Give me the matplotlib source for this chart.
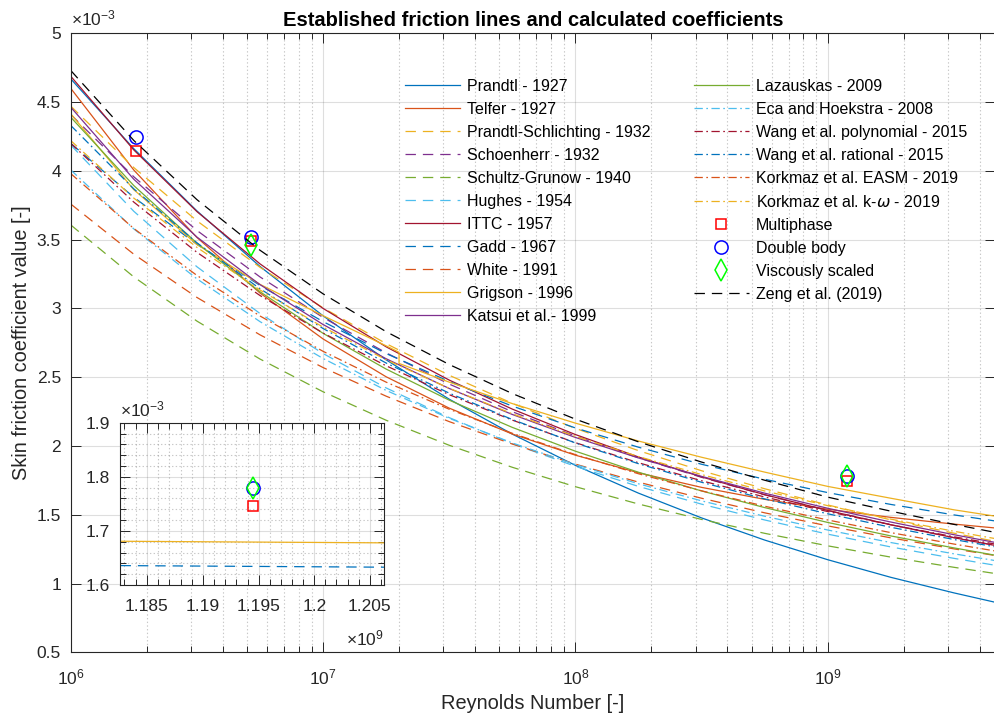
import numpy as np
import matplotlib
matplotlib.use("Agg")
import matplotlib.pyplot as plt
from matplotlib.ticker import FixedLocator, FuncFormatter, NullFormatter, LogLocator

plt.rcParams["font.family"] = ["Liberation Sans", "DejaVu Sans"]
plt.rcParams["mathtext.default"] = "regular"
plt.rcParams["lines.scale_dashes"] = False

re = [1e6, 1.778e6, 3.162e6, 5.623e6, 1e7, 1.778e7, 3.162e7, 5.623e7,
      1e8, 1.778e8, 3.162e8, 5.623e8, 1e9, 1.778e9, 3.162e9, 4.6e9]
# Grigson's line is split at 2e7 (two ranges)
re_grigson = [1e6, 1.778e6, 3.162e6, 5.623e6, 1e7, 1.778e7, 2e7, 2e7, 3.162e7, 5.623e7,
              1e8, 1.778e8, 3.162e8, 5.623e8, 1e9, 1.778e9, 3.162e9, 4.6e9]

# skin friction coefficient, x 10^-3
cf_prandtl = [4.669, 4.161, 3.709, 3.305, 2.946, 2.626, 2.340, 2.086,
              1.859, 1.657, 1.477, 1.316, 1.173, 1.045, 0.932, 0.864]
cf_telfer = [4.600, 4.006, 3.516, 3.112, 2.778, 2.503, 2.275, 2.087,
             1.933, 1.805, 1.699, 1.612, 1.540, 1.481, 1.432, 1.404]
cf_prandtl_schl = [4.471, 4.024, 3.637, 3.299, 3.004, 2.744, 2.514, 2.310,
                   2.128, 1.966, 1.820, 1.689, 1.571, 1.463, 1.366, 1.307]
cf_schoenherr = [4.410, 3.957, 3.567, 3.229, 2.934, 2.677, 2.450, 2.249,
                 2.072, 1.914, 1.772, 1.645, 1.531, 1.428, 1.334, 1.278]
cf_schultz = [3.607, 3.229, 2.908, 2.632, 2.394, 2.187, 2.005, 1.845,
              1.704, 1.578, 1.466, 1.365, 1.274, 1.192, 1.118, 1.073]
cf_hughes = [4.188, 3.706, 3.303, 2.963, 2.672, 2.422, 2.206, 2.017,
             1.852, 1.706, 1.577, 1.462, 1.359, 1.266, 1.183, 1.133]
cf_ittc = [4.688, 4.152, 3.704, 3.324, 3.000, 2.721, 2.479, 2.268,
           2.083, 1.920, 1.775, 1.646, 1.531, 1.427, 1.333, 1.277]
cf_gadd = [4.200, 3.808, 3.466, 3.167, 2.904, 2.672, 2.469, 2.290,
           2.131, 1.991, 1.867, 1.758, 1.661, 1.575, 1.499, 1.455]
cf_white = [3.759, 3.394, 3.080, 2.808, 2.570, 2.362, 2.177, 2.014,
            1.868, 1.737, 1.620, 1.514, 1.419, 1.332, 1.252, 1.204]
cf_grigson = [4.415, 3.863, 3.465, 3.175, 2.947, 2.728, 2.681, 2.600, 2.464, 2.308,
              2.166, 2.036, 1.918, 1.810, 1.706, 1.620, 1.536, 1.490]
cf_katsui = [4.463, 3.939, 3.519, 3.173, 2.883, 2.634, 2.418, 2.229,
             2.062, 1.913, 1.779, 1.657, 1.547, 1.447, 1.355, 1.299]
cf_lazauskas = [4.390, 3.893, 3.475, 3.121, 2.819, 2.559, 2.333, 2.135,
                1.962, 1.809, 1.673, 1.552, 1.444, 1.346, 1.259, 1.206]
cf_eca = [4.007, 3.578, 3.215, 2.904, 2.636, 2.404, 2.201, 2.022,
          1.865, 1.725, 1.601, 1.489, 1.389, 1.298, 1.216, 1.167]
cf_wang_poly = [4.200, 3.773, 3.408, 3.094, 2.821, 2.583, 2.373, 2.188,
                2.024, 1.878, 1.747, 1.629, 1.523, 1.427, 1.340, 1.287]
cf_wang_rat = [4.330, 3.869, 3.477, 3.143, 2.854, 2.603, 2.384, 2.192,
               2.022, 1.871, 1.736, 1.615, 1.507, 1.409, 1.320, 1.267]
cf_korkmaz_easm = [3.980, 3.581, 3.240, 2.945, 2.688, 2.464, 2.267, 2.092,
                   1.937, 1.798, 1.674, 1.562, 1.462, 1.370, 1.287, 1.237]
cf_korkmaz_kw = [4.220, 3.802, 3.444, 3.134, 2.864, 2.627, 2.419, 2.234,
                 2.070, 1.923, 1.792, 1.673, 1.566, 1.468, 1.380, 1.327]
cf_zeng = [4.730, 4.221, 3.791, 3.423, 3.106, 2.831, 2.592, 2.381,
           2.195, 2.030, 1.883, 1.751, 1.628, 1.526, 1.430, 1.372]

# calculated coefficients
re_sim = [1.82e6, 5.16e6, 1.1945e9]
cf_multiphase = [4.145, 3.493, 1.746]
cf_double_body = [4.249, 3.522, 1.779]
re_visc = [5.16e6, 1.1945e9]
cf_visc = [3.458, 1.779]

c = ["#0072BD", "#D95319", "#EDB120", "#7E2F8E", "#77AC30", "#4DBEEE", "#A2142F"]
DASH = (7.5, 5)
DASHDOT = (6, 2.5, 1.2, 2.5)

curves = [
    ("Prandtl - 1927", re, cf_prandtl, c[0], None),
    ("Telfer - 1927", re, cf_telfer, c[1], None),
    ("Prandtl-Schlichting - 1932", re, cf_prandtl_schl, c[2], DASH),
    ("Schoenherr - 1932", re, cf_schoenherr, c[3], DASH),
    ("Schultz-Grunow - 1940", re, cf_schultz, c[4], DASH),
    ("Hughes - 1954", re, cf_hughes, c[5], DASH),
    ("ITTC - 1957", re, cf_ittc, c[6], None),
    ("Gadd - 1967", re, cf_gadd, c[0], DASH),
    ("White - 1991", re, cf_white, c[1], DASH),
    ("Grigson - 1996", re_grigson, cf_grigson, c[2], None),
    ("Katsui et al.- 1999", re, cf_katsui, c[3], None),
    ("Lazauskas - 2009", re, cf_lazauskas, c[4], None),
    ("Eca and Hoekstra - 2008", re, cf_eca, c[5], DASHDOT),
    ("Wang et al. polynomial - 2015", re, cf_wang_poly, c[6], DASHDOT),
    ("Wang et al. rational - 2015", re, cf_wang_rat, c[0], DASHDOT),
    ("Korkmaz et al. EASM - 2019", re, cf_korkmaz_easm, c[1], DASHDOT),
    (r"Korkmaz et al. k-$\mathit{\omega}$ - 2019", re, cf_korkmaz_kw, c[2], DASHDOT),
]

AX = "#262626"


def draw(ax, labels=True):
    for label, x, y, col, dash in curves:
        line, = ax.plot(x, y, color=col, lw=0.9, label=label if labels else None)
        if dash is not None:
            line.set_dashes(dash)
    ax.plot(re_sim, cf_multiphase, "s", mfc="none", mec="r", ms=7, mew=1.1,
            label="Multiphase" if labels else None)
    ax.plot(re_sim, cf_double_body, "o", mfc="none", mec="b", ms=9.5, mew=1.1,
            label="Double body" if labels else None)
    ax.plot(re_visc, cf_visc, "d", mfc="none", mec="#00FF00", ms=11, mew=1.1,
            label="Viscously scaled" if labels else None)
    z, = ax.plot(re, cf_zeng, color="k", lw=0.9, label="Zeng et al. (2019)" if labels else None)
    z.set_dashes(DASH)


def style(ax, size):
    for s in ax.spines.values():
        s.set_color(AX)
        s.set_linewidth(0.8)
    ax.tick_params(which="both", direction="in", top=True, right=True,
                   colors=AX, labelsize=size, width=0.7)
    ax.tick_params(which="major", length=7)
    ax.tick_params(which="minor", length=4)


fig = plt.figure(figsize=(9.95, 7.18), dpi=100)
ax = fig.add_axes([0.0711, 0.0915, 0.9289, 0.8621])
draw(ax)
ax.set_xscale("log")
ax.set_xlim(1e6, 4.6e9)
ax.set_ylim(0.5, 5)
ax.set_yticks(np.arange(0.5, 5.01, 0.5))
ax.yaxis.set_major_formatter(FuncFormatter(lambda v, p: f"{v:g}"))
ax.xaxis.set_minor_locator(LogLocator(base=10, subs=np.arange(2, 10)))
ax.xaxis.set_minor_formatter(NullFormatter())
ax.grid(True, which="major", color=AX, alpha=0.15, lw=0.8)
ax.grid(True, which="minor", axis="x", color=AX, alpha=0.25, lw=0.8, ls=":")
style(ax, 12.5)
ax.tick_params(axis="x", which="both", pad=11)
ax.tick_params(axis="y", which="both", pad=7)
ax.set_title("Established friction lines and calculated coefficients",
             fontsize=14.5, fontweight="bold", color="k", pad=5)
ax.set_xlabel("Reynolds Number [-]", fontsize=14.4, color=AX, labelpad=5)
ax.set_ylabel("Skin friction coefficient value [-]", fontsize=14.4, color=AX, labelpad=4)
ax.text(0.0, 1.008, r"$\times10^{-3}$", transform=ax.transAxes, fontsize=12.5,
        color=AX, ha="left", va="bottom")

ax.legend(loc="upper left", bbox_to_anchor=(405 / 995, 1 - 79 / 718),
          bbox_transform=fig.transFigure, ncol=2, frameon=False, fontsize=11.5,
          handlelength=3.44, handletextpad=0.44, labelspacing=0.50,
          columnspacing=2.7, borderpad=0, borderaxespad=0)

# zoomed inset around the full scale point
axi = fig.add_axes([0.1206, 0.1852, 0.2653, 0.2260])
draw(axi, labels=False)
axi.set_xscale("log")
axi.set_xlim(1.1826e9, 1.2063e9)
axi.set_ylim(1.6, 1.9)
axi.xaxis.set_major_locator(FixedLocator([1.185e9, 1.19e9, 1.195e9, 1.2e9, 1.205e9]))
axi.xaxis.set_major_formatter(FuncFormatter(lambda v, p: f"{v / 1e9:g}"))
axi.xaxis.set_minor_locator(FixedLocator(np.arange(1183, 1207) * 1e6))
axi.xaxis.set_minor_formatter(NullFormatter())
axi.set_yticks([1.6, 1.7, 1.8, 1.9])
axi.yaxis.set_major_formatter(FuncFormatter(lambda v, p: f"{v:g}"))
axi.yaxis.set_minor_locator(FixedLocator(np.arange(1.6, 1.9, 0.02)))
axi.grid(True, which="major", color=AX, alpha=0.15, lw=0.8)
axi.grid(True, which="minor", color=AX, alpha=0.25, lw=0.8, ls=":")
style(axi, 12.5)
axi.tick_params(axis="x", which="both", pad=10)
axi.tick_params(axis="y", which="both", pad=7)
axi.text(0.0, 1.02, r"$\times10^{-3}$", transform=axi.transAxes, fontsize=12.5,
         color=AX, ha="left", va="bottom")
axi.text(1.0, -0.27, r"$\times10^{9}$", transform=axi.transAxes, fontsize=12.5,
         color=AX, ha="right", va="top")

fig.savefig("out.png", dpi=100)
